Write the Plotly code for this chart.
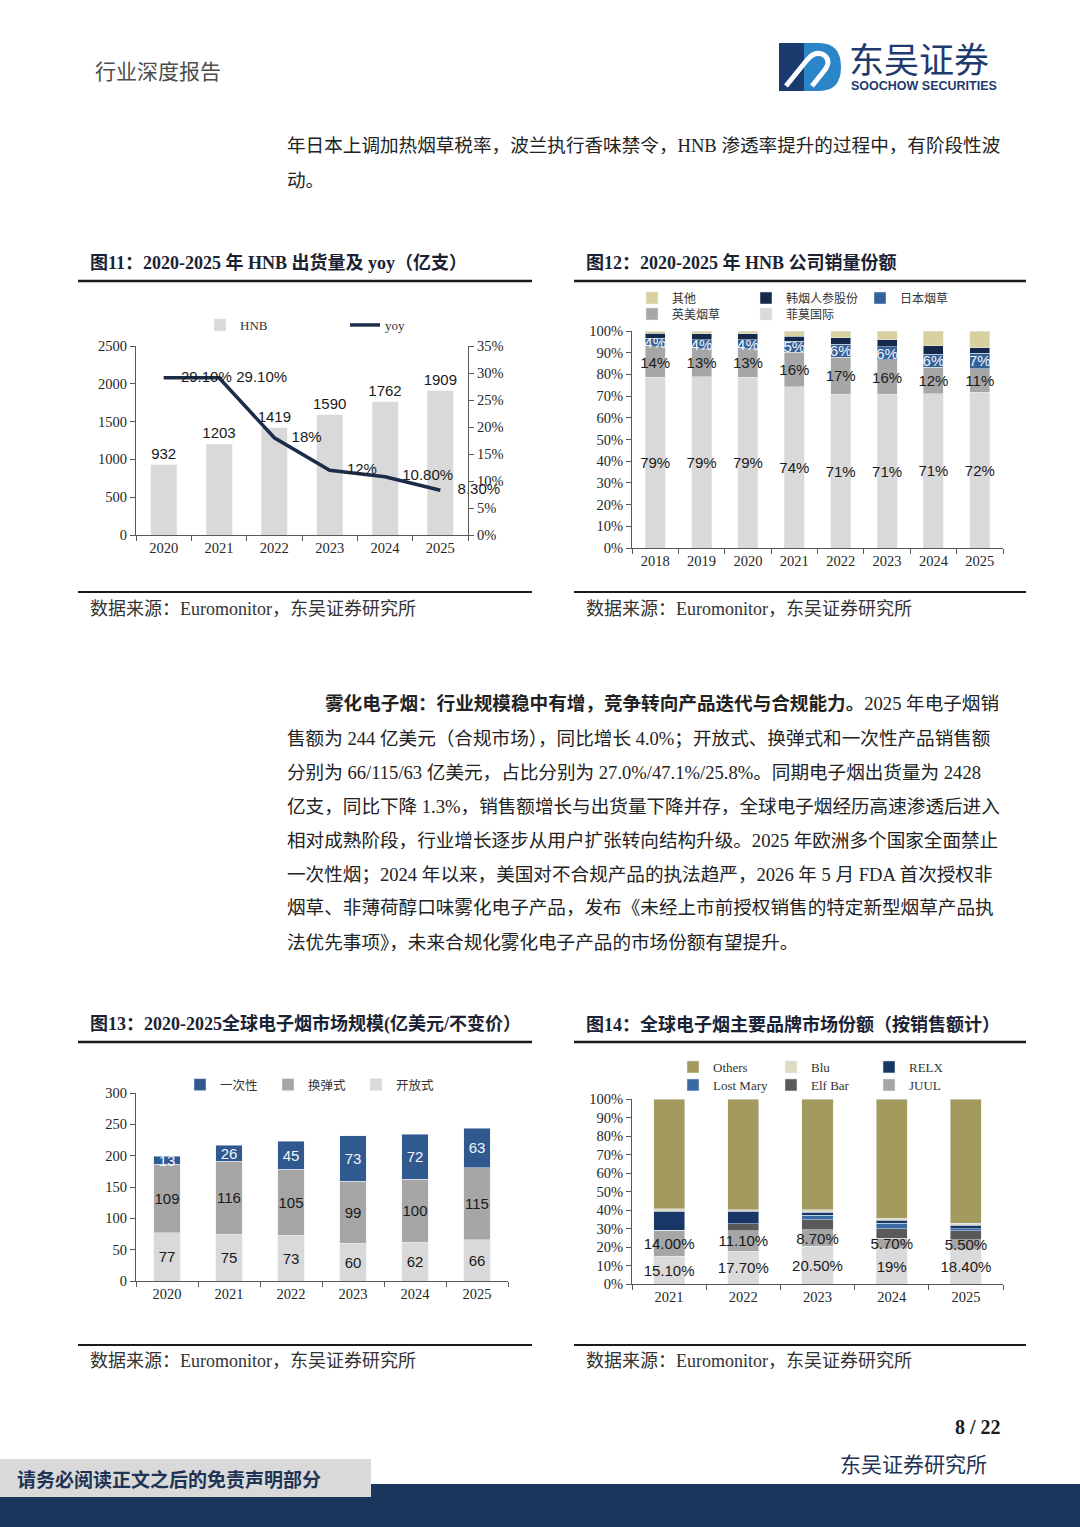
import plotly.graph_objects as go

PAGE_W, PAGE_H = 1080, 1527

# 图11: HNB 出货量 (亿支) 及 yoy (%)
hnb_years = ["2020", "2021", "2022", "2023", "2024", "2025"]
hnb_volume = [932, 1203, 1419, 1590, 1762, 1909]
hnb_yoy = [29.1, 29.1, 18.0, 12.0, 10.8, 8.3]
hnb_yoy_labels = ["29.10%", "29.10%", "18%", "12%", "10.80%", "8.30%"]

# 图12: HNB 公司销量份额 (%)
share_years = ["2018", "2019", "2020", "2021", "2022", "2023", "2024", "2025"]
share_pmi = [78.6, 79.0, 78.8, 74.2, 70.8, 70.8, 71.2, 71.7]
share_bat = [14.1, 12.8, 13.0, 16.0, 17.0, 16.0, 12.0, 11.0]
share_jt = [4.0, 4.2, 4.1, 5.0, 6.0, 6.0, 6.0, 7.0]
share_ktg = [2.3, 2.8, 2.8, 2.4, 3.2, 3.2, 3.9, 2.6]
share_other = [1.0, 1.2, 1.3, 2.4, 3.0, 4.0, 6.9, 7.7]

# 图13: 全球电子烟市场规模 (亿美元)
ecig_years = ["2020", "2021", "2022", "2023", "2024", "2025"]
ecig_open = [77, 75, 73, 60, 62, 66]
ecig_pod = [109, 116, 105, 99, 100, 115]
ecig_disposable = [13, 26, 45, 73, 72, 63]

# 图14: 全球电子烟主要品牌市场份额 (%)
brand_years = ["2021", "2022", "2023", "2024", "2025"]
brand_vuse = [15.1, 17.7, 20.5, 19.0, 18.4]
brand_juul = [14.0, 11.1, 8.7, 5.7, 5.5]
brand_elfbar = [0.0, 3.8, 5.5, 5.2, 4.9]
brand_lostmary = [0.0, 0.0, 2.4, 3.0, 1.1]
brand_relx = [10.3, 6.6, 1.8, 1.6, 1.8]
brand_blu = [1.2, 0.9, 1.2, 1.1, 1.2]
brand_others = [59.4, 59.9, 59.9, 64.4, 67.1]
vuse_labels = ["15.10%", "17.70%", "20.50%", "19%", "18.40%"]
juul_labels = ["14.00%", "11.10%", "8.70%", "5.70%", "5.50%"]

SERIF = "Liberation Serif, Noto Sans CJK SC"
CJK = "Noto Sans CJK SC"
SANS = "Liberation Sans, Arial"
LABEL_FONT = dict(family=SANS, size=15, color="#1a1a1a")


def px(x):
    return x / PAGE_W


def py(y):
    return 1 - y / PAGE_H


fig = go.Figure()

# ---- chart 11
fig.add_trace(go.Bar(x=hnb_years, y=hnb_volume, name="HNB", marker_color="#d9d9d9", width=0.47,
                     text=hnb_volume, textposition="outside", constraintext="none",
                     textfont=LABEL_FONT, cliponaxis=False,
                     xaxis="x", yaxis="y", legend="legend"))
# invisible markers only push the labels off the line a bit, like the source
fig.add_trace(go.Scatter(x=hnb_years, y=hnb_yoy, name="yoy", mode="lines+markers+text",
                         line=dict(color="#1c2d4b", width=3.5),
                         marker=dict(size=26, color="rgba(0,0,0,0)"),
                         text=hnb_yoy_labels, textposition="middle right", textfont=LABEL_FONT,
                         cliponaxis=False, xaxis="x", yaxis="y2", legend="legend"))

# ---- chart 12 (stack from bottom)
share_series = [
    ("菲莫国际", share_pmi, "#d9d9d9", "#1a1a1a", "legend3"),
    ("英美烟草", share_bat, "#a6a6a6", "#1a1a1a", "legend3"),
    ("日本烟草", share_jt, "#35619a", "#f2f5fb", "legend2"),
    ("韩烟人参股份", share_ktg, "#15294a", None, "legend2"),
    ("其他", share_other, "#d8d0a0", None, "legend2"),
]
for name, vals, color, text_color, leg in share_series:
    if text_color:
        kw = dict(texttemplate="%{y:.0f}%", textposition="inside", insidetextanchor="middle",
                  textangle=0, constraintext="none",
                  textfont=dict(family=SANS, size=15, color=text_color))
    else:
        kw = dict(textposition="none")
    fig.add_trace(go.Bar(x=share_years, y=vals, name=name, marker_color=color, width=0.43,
                         xaxis="x2", yaxis="y3", legend=leg, **kw))

# ---- chart 13
ecig_series = [
    ("开放式", ecig_open, "#d9d9d9", "#1a1a1a"),
    ("换弹式", ecig_pod, "#a6a6a6", "#1a1a1a"),
    ("一次性", ecig_disposable, "#30598f", "#f2f5fb"),
]
for name, vals, color, text_color in ecig_series:
    fig.add_trace(go.Bar(x=ecig_years, y=vals, name=name, marker_color=color, width=0.435,
                         texttemplate="%{y}", textposition="inside", insidetextanchor="middle",
                         textangle=0, constraintext="none",
                         textfont=dict(family=SANS, size=15, color=text_color),
                         xaxis="x3", yaxis="y4", legend="legend4"))

# ---- chart 14
brand_series = [
    ("Vuse", brand_vuse, "#dadada", vuse_labels, None),
    ("JUUL", brand_juul, "#a6a6a6", juul_labels, "legend6"),
    ("Elf Bar", brand_elfbar, "#595959", None, "legend6"),
    ("Lost Mary", brand_lostmary, "#3b6aa3", None, "legend6"),
    ("RELX", brand_relx, "#183766", None, "legend5"),
    ("Blu", brand_blu, "#dedbc2", None, "legend5"),
    ("Others", brand_others, "#a39b5d", None, "legend5"),
]
for name, vals, color, labels, leg in brand_series:
    kw = dict(textposition="none")
    if labels:
        kw = dict(text=labels, textposition="inside", insidetextanchor="middle", textangle=0,
                  constraintext="none", textfont=LABEL_FONT)
    fig.add_trace(go.Bar(x=brand_years, y=vals, name=name, marker_color=color, width=0.42,
                         xaxis="x4", yaxis="y5", legend=leg or "legend5",
                         showlegend=leg is not None, **kw))

# ---- axes
axis_style = dict(showline=True, linecolor="#595959", linewidth=1, showgrid=False, zeroline=False,
                  ticks="outside", ticklen=5, tickcolor="#595959", fixedrange=True, automargin=False,
                  tickfont=dict(family=SERIF, size=14.5, color="#262626"))
x_style = dict(axis_style, type="category", tickson="boundaries")

fig.update_layout(
    xaxis=dict(x_style, domain=[px(136), px(468)], anchor="y", range=[-0.5, 5.5]),
    yaxis=dict(axis_style, domain=[py(535), py(346)], anchor="x", range=[0, 2500], dtick=500),
    yaxis2=dict(axis_style, overlaying="y", side="right", anchor="x", range=[0, 35], dtick=5,
                ticksuffix="%"),
    xaxis2=dict(x_style, domain=[px(632), px(1003)], anchor="y3", range=[-0.5, 7.5]),
    yaxis3=dict(axis_style, domain=[py(548), py(331)], anchor="x2", range=[0, 100], dtick=10,
                ticksuffix="%"),
    xaxis3=dict(x_style, domain=[px(136), px(508)], anchor="y4", range=[-0.5, 5.5]),
    yaxis4=dict(axis_style, domain=[py(1281), py(1093)], anchor="x3", range=[0, 300], dtick=50),
    xaxis4=dict(x_style, domain=[px(632), px(1003)], anchor="y5", range=[-0.5, 4.5]),
    yaxis5=dict(axis_style, domain=[py(1284), py(1099)], anchor="x4", range=[0, 100], dtick=10,
                ticksuffix="%"),
)


def legend_at(x, y, entrywidth, size, family, order="reversed"):
    return dict(orientation="h", x=px(x), y=py(y), xanchor="left", yanchor="middle",
                entrywidth=entrywidth, entrywidthmode="pixels", traceorder=order,
                font=dict(family=family, size=size, color="#333333"),
                bgcolor="rgba(0,0,0,0)", itemclick=False, itemdoubleclick=False)


fig.update_layout(
    legend=legend_at(200, 325, 100, 13, SERIF, order="normal"),
    legend2=legend_at(632, 298, 69, 12, CJK),
    legend3=legend_at(632, 314, 69, 12, CJK),
    legend4=legend_at(180, 1085, 43, 12.5, CJK),
    legend5=legend_at(673, 1067, 53, 13, SERIF),
    legend6=legend_at(673, 1085, 53, 13, SERIF),
)


# ---- page text
def note(text, x, y, size, color="#222222", family=SERIF, xanchor="left"):
    return dict(text=text, x=px(x), y=py(y), xref="paper", yref="paper", showarrow=False,
                xanchor=xanchor, yanchor="middle", font=dict(family=family, size=size, color=color))


para1 = [
    "年日本上调加热烟草税率，波兰执行香味禁令，HNB 渗透率提升的过程中，有阶段性波",
    "动。",
]
para2 = [
    "<b>雾化电子烟：行业规模稳中有增，竞争转向产品迭代与合规能力。</b>2025 年电子烟销",
    "售额为 244 亿美元（合规市场），同比增长 4.0%；开放式、换弹式和一次性产品销售额",
    "分别为 66/115/63 亿美元，占比分别为 27.0%/47.1%/25.8%。同期电子烟出货量为 2428",
    "亿支，同比下降 1.3%，销售额增长与出货量下降并存，全球电子烟经历高速渗透后进入",
    "相对成熟阶段，行业增长逐步从用户扩张转向结构升级。2025 年欧洲多个国家全面禁止",
    "一次性烟；2024 年以来，美国对不合规产品的执法趋严，2026 年 5 月 FDA 首次授权非",
    "烟草、非薄荷醇口味雾化电子产品，发布《未经上市前授权销售的特定新型烟草产品执",
    "法优先事项》，未来合规化雾化电子产品的市场份额有望提升。",
]
source_text = "数据来源：Euromonitor，东吴证券研究所"

annotations = [
    note("行业深度报告", 93, 70, 21, color="#4d4d4d", family=CJK),
    note("东吴证券", 847, 58, 35, color="#1e3a6e", family=CJK),
    note("<b>SOOCHOW SECURITIES</b>", 849, 86, 12.5, color="#1e3a6e",
         family="Liberation Sans Narrow, Liberation Sans"),
    note("<b>图11：2020-2025 年 HNB 出货量及 yoy（亿支）</b>", 88, 262, 18, color="#1a2233"),
    note("<b>图12：2020-2025 年 HNB 公司销量份额</b>", 584, 262, 18, color="#1a2233"),
    note("<b>图13：2020-2025全球电子烟市场规模(亿美元/不变价）</b>", 88, 1024, 18, color="#1a2233"),
    note("<b>图14：全球电子烟主要品牌市场份额（按销售额计）</b>", 584, 1024, 18, color="#1a2233"),
    note(source_text, 88, 609, 18, color="#333333"),
    note(source_text, 584, 609, 18, color="#333333"),
    note(source_text, 88, 1361, 18, color="#333333"),
    note(source_text, 584, 1361, 18, color="#333333"),
    note("<b>8 / 22</b>", 1003, 1427, 20, color="#1a1a1a", family="Liberation Serif", xanchor="right"),
    note("东吴证券研究所", 838, 1463, 21, color="#1f3354", family=CJK),
    note("<b>请务必阅读正文之后的免责声明部分</b>", 15, 1478, 19, color="#1f3354", family=CJK),
]
for i, line in enumerate(para1):
    annotations.append(note(line, 285, 146 + 34 * i, 18.6))
for i, line in enumerate(para2):
    annotations.append(note(line, 323 if i == 0 else 285, 704 + 34 * i, 18.6))


def rect(x0, y0, x1, y1, color):
    return dict(type="rect", xref="paper", yref="paper", x0=px(x0), x1=px(x1), y0=py(y1), y1=py(y0),
                fillcolor=color, line=dict(width=0), layer="above")


def hline(x0, x1, y, width, color="#1a1a1a"):
    return dict(type="line", xref="paper", yref="paper", x0=px(x0), x1=px(x1), y0=py(y), y1=py(y),
                line=dict(color=color, width=width))


def path(points, **style):
    d = ""
    for cmd, pts in points:
        d += cmd + " " + " ".join(f"{px(a):.5f},{py(b):.5f}" for a, b in pts) + " "
    return dict(type="path", xref="paper", yref="paper", path=d.strip(), **style)


shapes = [
    # logo
    rect(779, 43, 812, 91, "#1b3a6e"),
    path([("M", [(804, 43)]), ("L", [(819, 43)]), ("Q", [(841, 43), (841, 67)]),
          ("Q", [(841, 91), (819, 91)]), ("L", [(804, 91)]), ("Z", [])],
         fillcolor="#2a86c9", line=dict(width=0)),
    path([("M", [(786, 86)]), ("L", [(807, 60)]), ("Q", [(815, 50), (824, 55)]),
          ("Q", [(832, 61), (824, 71)]), ("L", [(812, 86)])],
         line=dict(color="white", width=5)),
    # title / source rules
    hline(78, 532, 281, 2.5), hline(574, 1026, 281, 2.5),
    hline(78, 532, 592, 2), hline(574, 1026, 592, 2),
    hline(78, 532, 1042, 2.5), hline(574, 1026, 1042, 2.5),
    hline(78, 532, 1345, 2), hline(574, 1026, 1345, 2),
    # footer
    rect(0, 1484, 1080, 1527, "#1b365d"),
    rect(0, 1459, 371, 1497, "#d9d9d9"),
]

fig.update_layout(
    width=PAGE_W, height=PAGE_H,
    margin=dict(l=0, r=0, t=0, b=0, pad=0, autoexpand=False),
    paper_bgcolor="white", plot_bgcolor="white",
    barmode="stack",
    annotations=annotations,
    shapes=shapes,
    font=dict(family=SERIF, color="#222222"),
    hovermode=False,
)

fig.write_html("out.html", config={"displayModeBar": False},
               post_script="document.body.style.margin='0';")
